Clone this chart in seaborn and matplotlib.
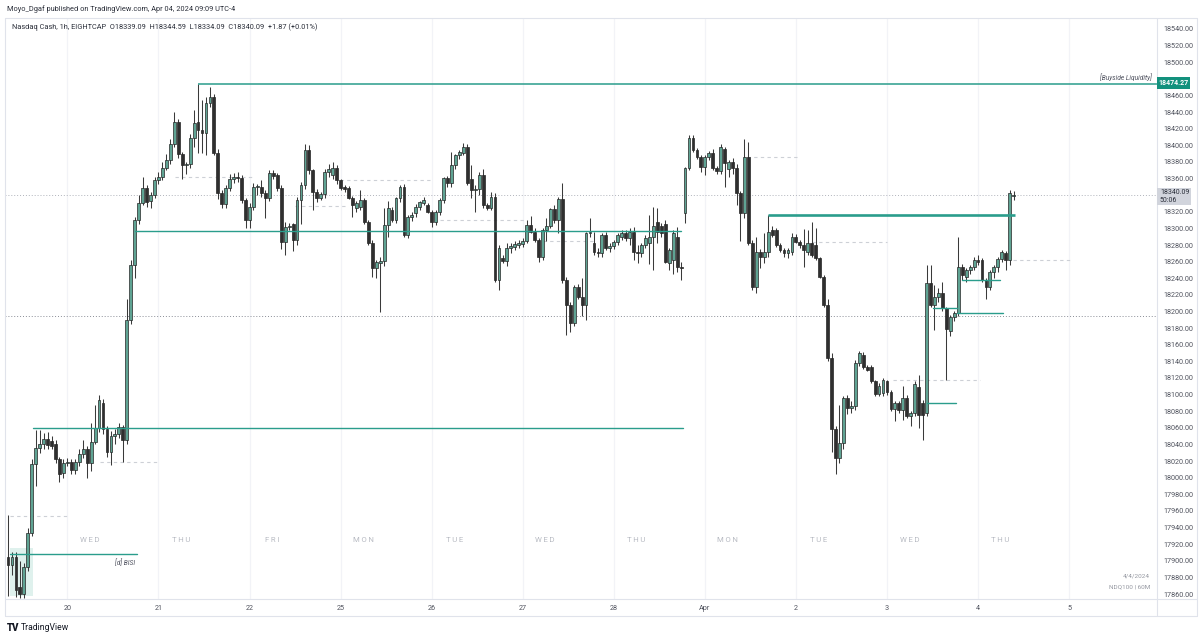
import numpy as np
import pandas as pd
import matplotlib
matplotlib.use("Agg")
import matplotlib.pyplot as plt
import seaborn as sns
from matplotlib.patches import Rectangle
from matplotlib.lines import Line2D

# ---------------- data (hourly candles, Mar 19 09:00 -> Apr 4 09:00) ----------------
open_ = [
    17905, 17895, 17905, 17868, 17860, 17892, 17934, 18016, 18036, 18041,
    18046, 18044, 18040, 18022, 18006, 18018, 18019, 18009, 18019, 18028,
    18034, 18018, 18043, 18060, 18090, 18058, 18031, 18050, 18052, 18061,
    18045, 18190, 18256, 18310, 18331, 18349, 18333, 18340, 18358, 18362,
    18373, 18382, 18402, 18428, 18389, 18376, 18377, 18409, 18428, 18418,
    18415, 18451, 18458, 18391, 18343, 18329, 18349, 18360, 18362, 18361,
    18334, 18310, 18326, 18350, 18350, 18343, 18337, 18367, 18364, 18349,
    18284, 18302, 18305, 18286, 18334, 18352, 18394, 18370, 18344, 18337,
    18341, 18368, 18364, 18373, 18358, 18350, 18349, 18337, 18325, 18326,
    18334, 18308, 18283, 18252, 18258, 18261, 18304, 18322, 18310, 18337,
    18350, 18292, 18314, 18318, 18326, 18330, 18328, 18320, 18308, 18320,
    18334, 18361, 18355, 18376, 18388, 18391, 18398, 18360, 18346, 18348,
    18364, 18328, 18325, 18338, 18238, 18264, 18261, 18277, 18278, 18280,
    18281, 18285, 18304, 18296, 18286, 18266, 18298, 18303, 18323, 18310,
    18335, 18238, 18208, 18186, 18230, 18218, 18208, 18294, 18283, 18272,
    18270, 18292, 18276, 18279, 18284, 18290, 18295, 18288, 18296, 18272,
    18270, 18280, 18283, 18290, 18308, 18303, 18305, 18258, 18262, 18290,
    18254, 18318, 18373, 18409, 18394, 18386, 18374, 18386, 18391, 18373,
    18369, 18396, 18372, 18380, 18373, 18343, 18318, 18386, 18282, 18230,
    18271, 18265, 18271, 18298, 18298, 18280, 18274, 18270, 18272, 18290,
    18284, 18280, 18272, 18282, 18280, 18264, 18242, 18208, 18144, 18058,
    18024, 18042, 18096, 18084, 18086, 18138, 18148, 18133, 18133, 18116,
    18101, 18102, 18116, 18103, 18083, 18090, 18082, 18096, 18074, 18078,
    18109, 18090, 18078, 18234, 18208, 18218, 18222, 18204, 18176, 18193,
    18198, 18254, 18241, 18250, 18253, 18262, 18262, 18238, 18230, 18247,
    18253, 18263, 18270, 18262, 18339.09,
]
high = [
    17955, 17911, 17910, 17900, 17897, 17940, 18022, 18057, 18057, 18054,
    18055, 18050, 18045, 18025, 18022, 18024, 18022, 18022, 18034, 18045,
    18038, 18066, 18088, 18099, 18095, 18062, 18056, 18058, 18066, 18064,
    18215, 18262, 18314, 18340, 18362, 18352, 18344, 18362, 18368, 18380,
    18390, 18408, 18440, 18432, 18392, 18380, 18414, 18443, 18474.27, 18455,
    18458, 18470, 18462, 18395, 18346, 18352, 18365, 18367, 18368, 18364,
    18337, 18330, 18355, 18354, 18358, 18346, 18370, 18370, 18367, 18352,
    18308, 18306, 18307, 18338, 18356, 18402, 18400, 18372, 18347, 18344,
    18371, 18378, 18380, 18376, 18360, 18352, 18351, 18339, 18333, 18346,
    18337, 18310, 18286, 18262, 18266, 18325, 18333, 18326, 18338, 18352,
    18353, 18316, 18320, 18329, 18333, 18338, 18331, 18322, 18322, 18336,
    18362, 18363, 18392, 18390, 18394, 18403, 18401, 18376, 18352, 18368,
    18372, 18330, 18344, 18342, 18280, 18268, 18282, 18282, 18285, 18286,
    18288, 18310, 18315, 18300, 18288, 18300, 18312, 18325, 18328, 18338,
    18355, 18242, 18212, 18232, 18233, 18240, 18296, 18313, 18296, 18276,
    18295, 18296, 18282, 18286, 18295, 18298, 18298, 18300, 18302, 18280,
    18282, 18292, 18316, 18326, 18325, 18306, 18310, 18276, 18298, 18302,
    18259, 18374, 18412, 18412, 18397, 18388, 18388, 18393, 18396, 18375,
    18402, 18398, 18382, 18385, 18378, 18345, 18407, 18404, 18286, 18290,
    18275, 18294, 18316, 18303, 18300, 18283, 18276, 18276, 18294, 18293,
    18286, 18299, 18298, 18308, 18300, 18266, 18244, 18215, 18150, 18062,
    18087, 18098, 18100, 18092, 18142, 18152, 18151, 18136, 18136, 18118,
    18114, 18120, 18118, 18106, 18092, 18092, 18110, 18100, 18080, 18116,
    18123, 18094, 18256, 18256, 18232, 18228, 18235, 18206, 18196, 18200,
    18290, 18257, 18252, 18256, 18265, 18268, 18264, 18240, 18250, 18256,
    18265, 18274, 18273, 18346, 18344.59,
]
low = [
    17858, 17883, 17856, 17855, 17855, 17888, 17930, 17990, 18030, 18035,
    18035, 18035, 18018, 17995, 18000, 18014, 18004, 18005, 18014, 18024,
    18000, 18008, 18040, 18055, 18052, 18025, 18015, 18040, 18048, 18019,
    18040, 18185, 18240, 18305, 18328, 18326, 18325, 18336, 18354, 18358,
    18370, 18378, 18398, 18385, 18360, 18365, 18373, 18398, 18391, 18391,
    18388, 18446, 18388, 18335, 18324, 18325, 18345, 18355, 18356, 18330,
    18300, 18300, 18322, 18340, 18338, 18312, 18333, 18360, 18345, 18275,
    18268, 18298, 18273, 18280, 18305, 18348, 18366, 18322, 18332, 18334,
    18337, 18362, 18360, 18354, 18346, 18344, 18335, 18314, 18320, 18322,
    18305, 18280, 18241, 18240, 18199, 18255, 18290, 18308, 18306, 18332,
    18290, 18288, 18309, 18314, 18322, 18328, 18318, 18302, 18304, 18316,
    18330, 18350, 18350, 18372, 18384, 18388, 18352, 18337, 18320, 18340,
    18325, 18322, 18322, 18236, 18226, 18258, 18255, 18270, 18274, 18276,
    18278, 18282, 18294, 18284, 18260, 18262, 18285, 18300, 18306, 18294,
    18234, 18172, 18175, 18182, 18215, 18195, 18190, 18290, 18268, 18266,
    18266, 18274, 18272, 18275, 18280, 18286, 18285, 18280, 18262, 18258,
    18266, 18276, 18257, 18250, 18282, 18290, 18258, 18250, 18245, 18248,
    18238, 18306, 18370, 18392, 18384, 18368, 18364, 18382, 18370, 18366,
    18365, 18350, 18362, 18366, 18328, 18285, 18312, 18280, 18226, 18222,
    18252, 18258, 18266, 18290, 18278, 18272, 18266, 18264, 18268, 18282,
    18276, 18254, 18268, 18266, 18262, 18240, 18205, 18140, 18031, 18005,
    18018, 18035, 18077, 18078, 18082, 18134, 18131, 18128, 18114, 18098,
    18098, 18098, 18100, 18080, 18068, 18078, 18070, 18072, 18062, 18074,
    18060, 18045, 18074, 18205, 18178, 18212, 18200, 18117, 18170, 18188,
    18195, 18238, 18236, 18245, 18250, 18256, 18236, 18215, 18226, 18240,
    18248, 18260, 18250, 18256, 18334.09,
]
close = [
    17895, 17905, 17865, 17860, 17892, 17934, 18016, 18036, 18041, 18046,
    18039, 18038, 18022, 18004, 18018, 18019, 18009, 18019, 18028, 18034,
    18018, 18043, 18060, 18093, 18058, 18031, 18050, 18052, 18061, 18045,
    18190, 18256, 18310, 18331, 18349, 18332, 18340, 18358, 18362, 18373,
    18382, 18402, 18428, 18389, 18376, 18377, 18409, 18427, 18418, 18415,
    18451, 18458, 18391, 18343, 18329, 18349, 18360, 18362, 18361, 18334,
    18310, 18326, 18350, 18351, 18343, 18337, 18367, 18363, 18349, 18284,
    18302, 18303, 18286, 18334, 18352, 18394, 18370, 18344, 18337, 18341,
    18368, 18371, 18373, 18358, 18349, 18348, 18337, 18328, 18330, 18334,
    18308, 18283, 18252, 18260, 18261, 18304, 18325, 18310, 18337, 18350,
    18292, 18314, 18316, 18326, 18332, 18334, 18320, 18308, 18320, 18334,
    18361, 18355, 18376, 18388, 18392, 18398, 18355, 18346, 18348, 18364,
    18328, 18325, 18338, 18238, 18276, 18261, 18277, 18279, 18281, 18282,
    18285, 18304, 18296, 18286, 18266, 18298, 18303, 18323, 18310, 18335,
    18238, 18208, 18186, 18230, 18218, 18208, 18294, 18296, 18272, 18270,
    18292, 18276, 18279, 18284, 18292, 18294, 18288, 18296, 18272, 18270,
    18280, 18289, 18290, 18303, 18296, 18295, 18260, 18274, 18294, 18254,
    18252, 18373, 18409, 18394, 18386, 18374, 18386, 18391, 18373, 18369,
    18398, 18379, 18380, 18373, 18343, 18318, 18386, 18282, 18230, 18271,
    18265, 18271, 18296, 18292, 18280, 18274, 18270, 18274, 18290, 18284,
    18280, 18274, 18282, 18268, 18264, 18242, 18208, 18144, 18058, 18024,
    18042, 18096, 18084, 18086, 18138, 18150, 18133, 18130, 18116, 18101,
    18110, 18117, 18103, 18083, 18090, 18082, 18096, 18074, 18078, 18113,
    18075, 18075, 18234, 18208, 18218, 18222, 18204, 18179, 18193, 18198,
    18254, 18244, 18250, 18253, 18262, 18260, 18238, 18230, 18247, 18253,
    18263, 18271, 18262, 18342, 18340.09,
]

date_labels = ["20", "21", "22", "25", "26", "27", "28", "Apr", "2", "3", "4", "5"]
day_labels = ["WED", "THU", "FRI", "MON", "TUE", "WED", "THU", "MON", "TUE", "WED", "THU"]
price_ticks = list(range(17860, 18541, 20))
hidden_ticks = [18480, 18340]   # covered by the price tags

buyside_level = 18474.27
last_price = 18340.09

# teal level lines: (price, start bar, end bar)
teal_levels = [
    (18297.0, 32.0, 170.0),
    (18059.5, 6.3, 170.5),
    (17908.0, 0.5, 32.5),
    (18238.0, 241.0, 250.5),
    (18198.0, 239.6, 251.3),
    (18204.0, 233.5, 239.6),
    (18090.0, 232.0, 239.5),
]
thick_level = (18316.0, 192.0, 254.3)
gray_dashes = [
    (17954, 0.5, 15.2), (18019, 23.2, 38.4), (18362, 42.2, 61.6),
    (18327, 72.5, 85.1), (18358, 83.8, 107.3), (18310, 109.0, 130.6),
    (18285, 135.0, 148.0), (18386, 186.6, 199.2), (18284, 203.0, 222.0),
    (18117, 223.5, 245.5), (18262, 253.8, 268.2),
]
dotted_level = 18194.0

# ---------------- style ----------------
sns.set_theme(style="white")
plt.rcParams['font.family'] = ['Roboto', 'DejaVu Sans']

W, H = 1200, 639
fig = plt.figure(figsize=(12, 6.39), dpi=100)
fig.patch.set_facecolor("white")


def fx(px):
    return px / W


def fy(py):
    return 1 - py / H


ax = fig.add_axes([fx(5), fy(599), fx(1157) - fx(5), fy(18) - fy(599)])
ax.set_facecolor("white")
XMIN, XMAX = -0.76, 290.2
ax.set_xlim(XMIN, XMAX)
ax.set_ylim(17854.0, 18553.2)
for s in ax.spines.values():
    s.set_visible(False)

n = len(close)
assert len(open_) == n and len(high) == n and len(low) == n, (len(open_), len(high), len(low), n)
df = pd.DataFrame({"i": np.arange(n), "o": open_, "h": high, "l": low, "c": close})
df["h"] = df[["h", "o", "c"]].max(axis=1)
df["l"] = df[["l", "o", "c"]].min(axis=1)
df["up"] = df["c"] >= df["o"]

midnights = [15 + 23 * k for k in range(len(date_labels))]

# vertical grid
for m in midnights:
    ax.axvline(m, color="#f2f3f7", lw=0.9, zorder=0)

# full-width dotted lines
ax.axhline(dotted_level, color="#8a8d96", lw=0.7, ls=(0, (1, 2)), zorder=1)
ax.axhline(last_price, color="#b0b3bb", lw=0.7, ls=(0, (1, 2)), zorder=1)

# gray dashed short levels
for p, a, b in gray_dashes:
    ax.hlines(p, a, b, color="#cdd0d6", lw=0.8, ls=(0, (3, 3)), zorder=1)

# shaded BISI zone
ax.add_patch(Rectangle((0.5, 17857.6), 5.8, 17915.4 - 17857.6, facecolor="#dff1ed",
                       edgecolor="none", zorder=0.5))

TEAL = "#2a9d8c"
# teal level lines via seaborn
rows = []
for k, (p, a, b) in enumerate(teal_levels):
    rows.append({"x": a, "price": p, "seg": k})
    rows.append({"x": b, "price": p, "seg": k})
lv = pd.DataFrame(rows)
sns.lineplot(data=lv, x="x", y="price", units="seg", estimator=None, color=TEAL,
             lw=1.0, ax=ax, legend=False, zorder=4)
ax.hlines(thick_level[0], thick_level[1], thick_level[2], color=TEAL, lw=1.9, zorder=4)
ax.hlines(buyside_level, 48, XMAX, color=TEAL, lw=1.1, zorder=4)

# candles
UP, DOWN, EDGE = "#5fa393", "#2f2f2f", "#262626"
ax.vlines(df["i"], df["l"], df["h"], color="#3a3a3a", lw=0.75, zorder=2)
upd = df[df["up"]]
dnd = df[~df["up"]]
ax.bar(upd["i"], (upd["c"] - upd["o"]).clip(lower=0.8), bottom=upd["o"], width=0.72,
       color=UP, edgecolor=EDGE, linewidth=0.5, zorder=3)
ax.bar(dnd["i"], (dnd["o"] - dnd["c"]).clip(lower=0.8), bottom=dnd["c"], width=0.72,
       color=DOWN, edgecolor=EDGE, linewidth=0.5, zorder=3)

# annotation texts
ax.text(289.0, buyside_level + 3, "[Buyside Liquidity]", ha="right", va="bottom",
        fontsize=4.8, style="italic", color="#505360", zorder=5)
ax.text(32.0, 17903, "[d] BISI", ha="right", va="top", fontsize=4.8, style="italic",
        color="#505360", zorder=5)
for k, lab in enumerate(day_labels):
    ax.text(midnights[k] + 5.7, 17925, "\u2009".join(lab), ha="center", va="center",
            fontsize=5.6, color="#b8bbc3", zorder=1)

# axes ticks
ax.yaxis.tick_right()
ax.set_yticks(price_ticks)
ax.set_yticklabels(["" if p in hidden_ticks else f"{p:.2f}" for p in price_ticks])
ax.tick_params(axis="y", length=0, pad=4.5, labelsize=5.2, labelcolor="#50535e")
ax.set_xticks(midnights)
ax.set_xticklabels(date_labels)
ax.tick_params(axis="x", length=0, pad=4.5, labelsize=5.2, labelcolor="#50535e")
ax.set_xlabel("")
ax.set_ylabel("")
ax.grid(False)

# frame lines
frame_c = "#e0e3eb"
for (x0, y0, x1, y1) in [(5, 18, 1197, 18), (5, 616, 1197, 616), (5, 18, 5, 616),
                         (1197, 18, 1197, 616), (1157, 18, 1157, 616), (5, 599, 1197, 599)]:
    fig.add_artist(Line2D([fx(x0), fx(x1)], [fy(y0), fy(y1)], color=frame_c, lw=0.8,
                          transform=fig.transFigure))

# price tags
fig.add_artist(Rectangle((fx(1157), fy(88.5)), fx(1190) - fx(1157), fy(77.5) - fy(88.5),
                         facecolor="#13917d", edgecolor="none", transform=fig.transFigure, zorder=10))
fig.text(fx(1173.5), fy(83), f"{buyside_level:.2f}", ha="center", va="center", fontsize=5.0,
         color="white", fontweight="bold", zorder=11)
fig.add_artist(Rectangle((fx(1157), fy(204.5)), fx(1191) - fx(1157), fy(187.5) - fy(204.5),
                         facecolor="#d1d4dc", edgecolor="none", transform=fig.transFigure, zorder=10))
fig.text(fx(1160), fy(192), f"{last_price:.2f}", ha="left", va="center", fontsize=5.0,
         color="#2a2e39", zorder=11)
fig.text(fx(1160), fy(200), "50:06", ha="left", va="center", fontsize=5.0,
         color="#2a2e39", zorder=11)

# headers
fig.text(fx(7), fy(9), "Moyo_Dgaf published on TradingView.com, Apr 04, 2024 09:09 UTC-4",
         ha="left", va="center", fontsize=5.3, color="#2a2e39")
fig.text(fx(12), fy(27),
         "Nasdaq Cash, 1h, EIGHTCAP  O18339.09  H18344.59  L18334.09  C18340.09  +1.87 (+0.01%)",
         ha="left", va="center", fontsize=5.3, color="#2a2e39")

# watermark
fig.text(fx(1150), fy(576), "4/4/2024", ha="right", va="center", fontsize=4.6, color="#9598a1")
fig.text(fx(1150), fy(587), "NDQ100 | 60M", ha="right", va="center", fontsize=4.6, color="#9598a1")

# footer logo
fig.text(fx(7), fy(628), "TV", ha="left", va="center", fontsize=7, fontweight="heavy", color="#131722")
fig.text(fx(21), fy(628), "TradingView", ha="left", va="center", fontsize=6.2, color="#131722")

fig.savefig("out.png", dpi=100, facecolor="white")
